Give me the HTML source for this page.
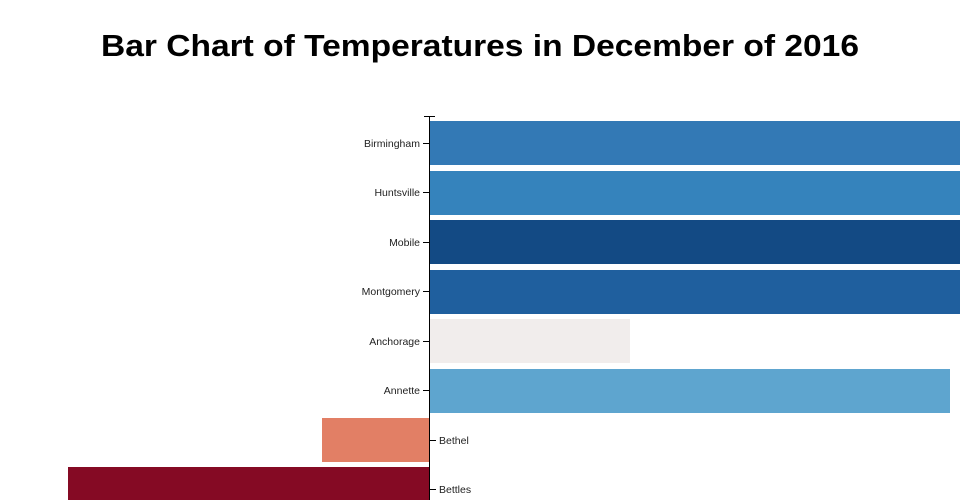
<!DOCTYPE html>
<html><head><style>
body{margin:0;background:#fff;width:960px;height:500px;overflow:hidden}
svg{display:block}
text{font-family:"Liberation Sans",sans-serif}
</style></head><body>
<svg width="960" height="500" xmlns="http://www.w3.org/2000/svg">
<text x="101" y="56" font-size="31" font-weight="bold" fill="#000" textLength="758" lengthAdjust="spacingAndGlyphs">Bar Chart of Temperatures in December of 2016</text>
<rect x="429" y="121" width="531" height="44" fill="#3379b5"/>
<rect x="429" y="171" width="531" height="44" fill="#3583bc"/>
<rect x="429" y="220" width="531" height="44" fill="#134a84"/>
<rect x="429" y="270" width="531" height="44" fill="#1f5f9e"/>
<rect x="429" y="319" width="201" height="44" fill="#f1edec"/>
<rect x="429" y="369" width="521" height="44" fill="#5ea5cf"/>
<rect x="322" y="418" width="107" height="44" fill="#e27f65"/>
<rect x="68" y="467" width="361" height="44" fill="#850a24"/>
<g stroke="#000" stroke-width="1">
<line x1="429.5" y1="116" x2="429.5" y2="500"/>
<line x1="424" y1="116.5" x2="435" y2="116.5"/>
<line x1="423" y1="143.5" x2="429" y2="143.5"/>
<line x1="423" y1="192.5" x2="429" y2="192.5"/>
<line x1="423" y1="242.5" x2="429" y2="242.5"/>
<line x1="423" y1="291.5" x2="429" y2="291.5"/>
<line x1="423" y1="341.5" x2="429" y2="341.5"/>
<line x1="423" y1="390.5" x2="429" y2="390.5"/>
<line x1="430" y1="440.5" x2="436" y2="440.5"/>
<line x1="430" y1="489.5" x2="436" y2="489.5"/>
</g>
<g font-size="10.5" fill="#222" text-anchor="end">
<text x="420" y="147">Birmingham</text>
<text x="420" y="196">Huntsville</text>
<text x="420" y="246">Mobile</text>
<text x="420" y="295">Montgomery</text>
<text x="420" y="345">Anchorage</text>
<text x="420" y="394">Annette</text>
</g>
<g font-size="10.5" fill="#222">
<text x="439" y="444">Bethel</text>
<text x="439" y="493">Bettles</text>
</g>
</svg>
</body></html>
